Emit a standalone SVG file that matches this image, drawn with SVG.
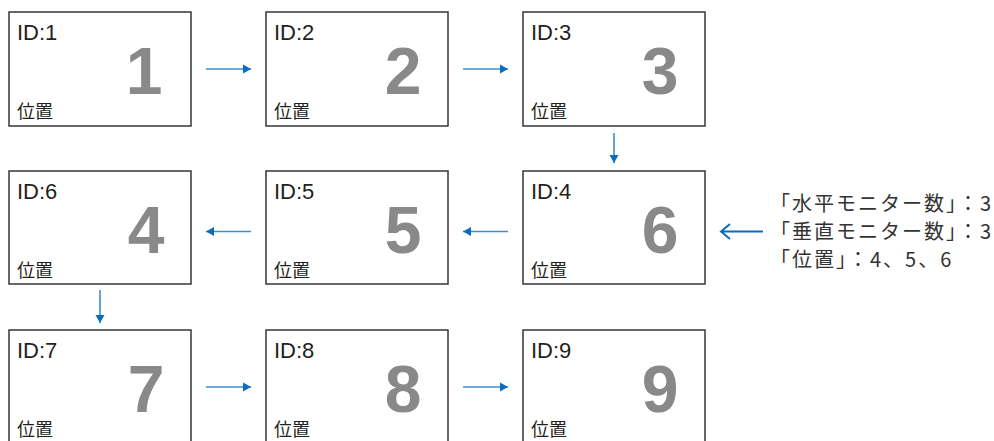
<svg xmlns="http://www.w3.org/2000/svg" width="994" height="441" viewBox="0 0 994 441">
<style>
.box{fill:#fff;stroke:#3a3535;stroke-width:1.5}
.id{font-family:"Liberation Sans",Arial,sans-serif;font-size:22px;fill:#231f20}
.num{font-family:"Liberation Sans",Arial,sans-serif;font-size:66px;font-weight:bold;fill:#898989;text-anchor:middle}
.pos{font-family:"Noto Sans CJK JP",sans-serif;font-size:18px;fill:#231f20}
.conn{stroke:#3b8fd0;stroke-width:1.6;fill:none}
.note{font-family:"Noto Sans CJK JP",sans-serif;font-size:20px;letter-spacing:2px;fill:#333}
</style>
<defs>
<marker id="ah" markerUnits="userSpaceOnUse" markerWidth="10" markerHeight="10" viewBox="0 0 10 10" refX="9" refY="5" orient="auto">
<path d="M1,0.5 L9,5 L1,9.5 Z" fill="#0a6cbc"/>
</marker>
</defs>
<rect width="994" height="441" fill="#fff"/>
<g id="n1"><rect class="box" x="9" y="12" width="182" height="114"/><text class="id" x="17" y="40">ID:1</text><text class="num" x="144" y="94">1</text><text class="pos" x="17" y="118">位置</text></g>
<g id="n2"><rect class="box" x="266" y="12" width="182" height="114"/><text class="id" x="274" y="40">ID:2</text><text class="num" x="403" y="94">2</text><text class="pos" x="274" y="118">位置</text></g>
<g id="n3"><rect class="box" x="523" y="12" width="182" height="114"/><text class="id" x="531" y="40">ID:3</text><text class="num" x="660" y="94">3</text><text class="pos" x="531" y="118">位置</text></g>
<g id="n6"><rect class="box" x="9" y="171" width="182" height="113"/><text class="id" x="17" y="199">ID:6</text><text class="num" x="146" y="253">4</text><text class="pos" x="17" y="277">位置</text></g>
<g id="n5"><rect class="box" x="266" y="171" width="182" height="113"/><text class="id" x="274" y="199">ID:5</text><text class="num" x="403" y="253">5</text><text class="pos" x="274" y="277">位置</text></g>
<g id="n4"><rect class="box" x="523" y="171" width="182" height="113"/><text class="id" x="531" y="199">ID:4</text><text class="num" x="660" y="253">6</text><text class="pos" x="531" y="277">位置</text></g>
<g id="n7"><rect class="box" x="9" y="330" width="182" height="114"/><text class="id" x="17" y="358">ID:7</text><text class="num" x="146" y="412">7</text><text class="pos" x="17" y="436">位置</text></g>
<g id="n8"><rect class="box" x="266" y="330" width="182" height="114"/><text class="id" x="274" y="358">ID:8</text><text class="num" x="403" y="412">8</text><text class="pos" x="274" y="436">位置</text></g>
<g id="n9"><rect class="box" x="523" y="330" width="182" height="114"/><text class="id" x="531" y="358">ID:9</text><text class="num" x="660" y="412">9</text><text class="pos" x="531" y="436">位置</text></g>
<g id="connectors">
<line class="conn" x1="206" y1="69" x2="251" y2="69" marker-end="url(#ah)"/>
<line class="conn" x1="463" y1="69" x2="508" y2="69" marker-end="url(#ah)"/>
<line class="conn" x1="614" y1="133" x2="614" y2="163" marker-end="url(#ah)"/>
<line class="conn" x1="251" y1="231.5" x2="206" y2="231.5" marker-end="url(#ah)"/>
<line class="conn" x1="508" y1="231.5" x2="463" y2="231.5" marker-end="url(#ah)"/>
<line class="conn" x1="100" y1="290" x2="100" y2="323" marker-end="url(#ah)"/>
<line class="conn" x1="206" y1="387" x2="251" y2="387" marker-end="url(#ah)"/>
<line class="conn" x1="463" y1="387" x2="508" y2="387" marker-end="url(#ah)"/>
<path d="M763,231.5 H721 M730,224 L721,231.5 L730,239" stroke="#0a6cbc" stroke-width="2" fill="none"/>
</g>
<g id="note">
<text class="note" x="770" y="211">「水平モニター数」：3</text>
<text class="note" x="770" y="239">「垂直モニター数」：3</text>
<text class="note" x="770" y="267">「位置」：4、5、6</text>
</g>
</svg>
